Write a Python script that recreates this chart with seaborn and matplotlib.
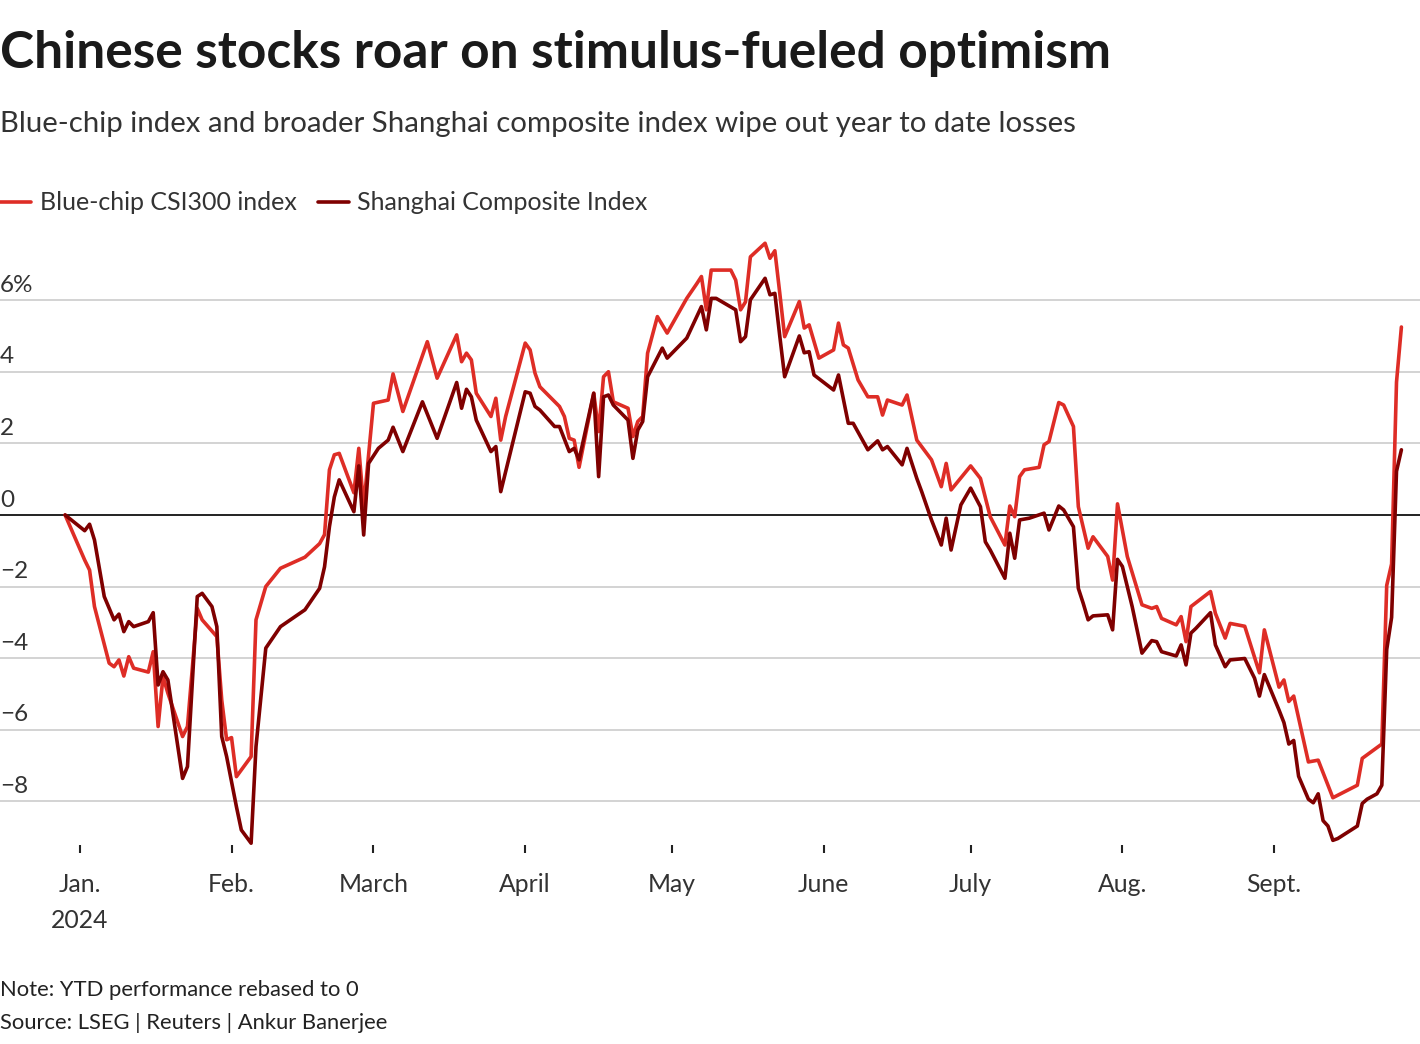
import pandas as pd
import matplotlib
matplotlib.use("Agg")
import matplotlib.pyplot as plt
import matplotlib.dates as mdates
import matplotlib.transforms as mtransforms
import seaborn as sns

# YTD performance (%), rebased to 0 at the last close of 2023
csi_dates = [
    "2023-12-29", "2024-01-02", "2024-01-03", "2024-01-04", "2024-01-07", "2024-01-08",
    "2024-01-09", "2024-01-10", "2024-01-11", "2024-01-12", "2024-01-15", "2024-01-16",
    "2024-01-17", "2024-01-18", "2024-01-19", "2024-01-22", "2024-01-23", "2024-01-25",
    "2024-01-26", "2024-01-29", "2024-01-30", "2024-01-31", "2024-02-01", "2024-02-02",
    "2024-02-05", "2024-02-06", "2024-02-08", "2024-02-11", "2024-02-16", "2024-02-19",
    "2024-02-20", "2024-02-21", "2024-02-22", "2024-02-23", "2024-02-26", "2024-02-27",
    "2024-02-28", "2024-03-01", "2024-03-04", "2024-03-05", "2024-03-07", "2024-03-12",
    "2024-03-14", "2024-03-18", "2024-03-19", "2024-03-20", "2024-03-21", "2024-03-22",
    "2024-03-25", "2024-03-26", "2024-03-27", "2024-03-28", "2024-04-01", "2024-04-02",
    "2024-04-03", "2024-04-04", "2024-04-08", "2024-04-09", "2024-04-10", "2024-04-11",
    "2024-04-12", "2024-04-15", "2024-04-16", "2024-04-17", "2024-04-18", "2024-04-19",
    "2024-04-22", "2024-04-23", "2024-04-24", "2024-04-25", "2024-04-26", "2024-04-28",
    "2024-04-30", "2024-05-04", "2024-05-06", "2024-05-07", "2024-05-08", "2024-05-09",
    "2024-05-13", "2024-05-14", "2024-05-15", "2024-05-16", "2024-05-17", "2024-05-20",
    "2024-05-21", "2024-05-22", "2024-05-23", "2024-05-24", "2024-05-27", "2024-05-28",
    "2024-05-29", "2024-05-31", "2024-06-03", "2024-06-04", "2024-06-05", "2024-06-06",
    "2024-06-08", "2024-06-10", "2024-06-12", "2024-06-13", "2024-06-14", "2024-06-17",
    "2024-06-18", "2024-06-20", "2024-06-23", "2024-06-25", "2024-06-26", "2024-06-27",
    "2024-07-01", "2024-07-03", "2024-07-05", "2024-07-08", "2024-07-09", "2024-07-10",
    "2024-07-11", "2024-07-12", "2024-07-15", "2024-07-16", "2024-07-17", "2024-07-19",
    "2024-07-20", "2024-07-22", "2024-07-23", "2024-07-25", "2024-07-26", "2024-07-29",
    "2024-07-30", "2024-07-31", "2024-08-02", "2024-08-05", "2024-08-07", "2024-08-08",
    "2024-08-09", "2024-08-12", "2024-08-13", "2024-08-14", "2024-08-15", "2024-08-19",
    "2024-08-20", "2024-08-22", "2024-08-23", "2024-08-26", "2024-08-29", "2024-08-30",
    "2024-09-02", "2024-09-03", "2024-09-04", "2024-09-05", "2024-09-08", "2024-09-10",
    "2024-09-13", "2024-09-18", "2024-09-19", "2024-09-23", "2024-09-24", "2024-09-25",
    "2024-09-26", "2024-09-27",
]
csi_values = [
    0.0, -1.26, -1.54, -2.56, -4.14, -4.24,
    -4.05, -4.50, -3.96, -4.28, -4.39, -3.82,
    -5.91, -4.52, -4.98, -6.19, -5.91, -2.61,
    -2.93, -3.40, -5.17, -6.28, -6.22, -7.31,
    -6.75, -2.93, -2.00, -1.49, -1.18, -0.80,
    -0.55, 1.26, 1.68, 1.72, 0.62, 1.86,
    0.23, 3.12, 3.21, 3.94, 2.89, 4.84,
    3.82, 5.03, 4.28, 4.52, 4.33, 3.40,
    2.75, 3.26, 2.09, 2.75, 4.80, 4.61,
    3.96, 3.58, 3.03, 2.75, 2.14, 2.09,
    1.33, 3.40, 2.33, 3.86, 4.00, 3.16,
    2.98, 2.19, 2.61, 2.75, 4.52, 5.54,
    5.08, 6.05, 6.45, 6.66, 5.73, 6.84,
    6.84, 6.56, 5.73, 5.95, 7.21, 7.59,
    7.17, 7.38, 6.20, 4.98, 5.96, 5.22,
    5.31, 4.38, 4.61, 5.36, 4.75, 4.66,
    3.77, 3.30, 3.30, 2.79, 3.21, 3.07,
    3.35, 2.09, 1.54, 0.79, 1.44, 0.70,
    1.37, 1.02, -0.05, -0.84, 0.25, -0.05,
    1.07, 1.26, 1.33, 1.96, 2.05, 3.14,
    3.07, 2.47, 0.23, -0.93, -0.61, -1.16,
    -1.82, 0.31, -1.16, -2.51, -2.61, -2.56,
    -2.89, -3.07, -2.84, -3.54, -2.56, -2.14,
    -2.75, -3.44, -3.03, -3.11, -4.41, -3.21,
    -4.81, -4.61, -5.21, -5.06, -6.90, -6.85,
    -7.90, -7.55, -6.80, -6.40, -1.97, -1.37,
    3.71, 5.25,
]

sse_dates = [
    "2023-12-29", "2024-01-02", "2024-01-03", "2024-01-04", "2024-01-06", "2024-01-08",
    "2024-01-09", "2024-01-10", "2024-01-11", "2024-01-12", "2024-01-15", "2024-01-16",
    "2024-01-17", "2024-01-18", "2024-01-19", "2024-01-22", "2024-01-23", "2024-01-25",
    "2024-01-26", "2024-01-28", "2024-01-29", "2024-01-30", "2024-01-31", "2024-02-02",
    "2024-02-03", "2024-02-05", "2024-02-06", "2024-02-08", "2024-02-11", "2024-02-16",
    "2024-02-19", "2024-02-20", "2024-02-21", "2024-02-22", "2024-02-23", "2024-02-26",
    "2024-02-27", "2024-02-28", "2024-02-29", "2024-03-02", "2024-03-04", "2024-03-05",
    "2024-03-07", "2024-03-11", "2024-03-14", "2024-03-18", "2024-03-19", "2024-03-20",
    "2024-03-21", "2024-03-22", "2024-03-25", "2024-03-26", "2024-03-27", "2024-04-01",
    "2024-04-02", "2024-04-03", "2024-04-04", "2024-04-07", "2024-04-08", "2024-04-10",
    "2024-04-11", "2024-04-12", "2024-04-15", "2024-04-16", "2024-04-17", "2024-04-18",
    "2024-04-19", "2024-04-22", "2024-04-23", "2024-04-24", "2024-04-25", "2024-04-26",
    "2024-04-29", "2024-04-30", "2024-05-04", "2024-05-07", "2024-05-08", "2024-05-09",
    "2024-05-10", "2024-05-14", "2024-05-15", "2024-05-16", "2024-05-17", "2024-05-20",
    "2024-05-21", "2024-05-22", "2024-05-23", "2024-05-24", "2024-05-27", "2024-05-28",
    "2024-05-29", "2024-05-30", "2024-06-03", "2024-06-04", "2024-06-06", "2024-06-07",
    "2024-06-10", "2024-06-12", "2024-06-13", "2024-06-14", "2024-06-17", "2024-06-18",
    "2024-06-20", "2024-06-21", "2024-06-23", "2024-06-25", "2024-06-26", "2024-06-27",
    "2024-06-29", "2024-07-01", "2024-07-03", "2024-07-04", "2024-07-05", "2024-07-08",
    "2024-07-09", "2024-07-10", "2024-07-11", "2024-07-13", "2024-07-16", "2024-07-17",
    "2024-07-19", "2024-07-20", "2024-07-22", "2024-07-23", "2024-07-24", "2024-07-25",
    "2024-07-26", "2024-07-29", "2024-07-30", "2024-07-31", "2024-08-01", "2024-08-03",
    "2024-08-05", "2024-08-07", "2024-08-08", "2024-08-09", "2024-08-12", "2024-08-13",
    "2024-08-14", "2024-08-15", "2024-08-16", "2024-08-19", "2024-08-20", "2024-08-22",
    "2024-08-23", "2024-08-26", "2024-08-28", "2024-08-29", "2024-08-30", "2024-09-02",
    "2024-09-03", "2024-09-04", "2024-09-05", "2024-09-06", "2024-09-08", "2024-09-09",
    "2024-09-10", "2024-09-11", "2024-09-12", "2024-09-13", "2024-09-14", "2024-09-18",
    "2024-09-19", "2024-09-20", "2024-09-22", "2024-09-23", "2024-09-24", "2024-09-25",
    "2024-09-26", "2024-09-27",
]
sse_values = [
    0.0, -0.44, -0.26, -0.70, -2.28, -2.93,
    -2.77, -3.26, -2.98, -3.12, -2.98, -2.73,
    -4.75, -4.38, -4.61, -7.36, -7.03, -2.28,
    -2.19, -2.56, -3.12, -6.19, -6.75, -8.15,
    -8.80, -9.17, -6.47, -3.72, -3.12, -2.65,
    -2.05, -1.45, -0.33, 0.50, 0.98, 0.09,
    1.37, -0.56, 1.44, 1.86, 2.09, 2.45,
    1.77, 3.16, 2.14, 3.70, 2.98, 3.51,
    3.30, 2.65, 1.77, 1.91, 0.65, 3.44,
    3.40, 3.03, 2.93, 2.47, 2.47, 1.77,
    1.86, 1.54, 3.40, 1.07, 3.30, 3.35,
    3.07, 2.65, 1.58, 2.37, 2.61, 3.86,
    4.66, 4.38, 4.94, 5.82, 5.17, 6.05,
    6.05, 5.73, 4.84, 4.98, 6.01, 6.61,
    6.15, 6.19, 5.00, 3.86, 5.00, 4.53,
    4.56, 3.91, 3.49, 3.91, 2.56, 2.56,
    1.82, 2.07, 1.82, 1.91, 1.40, 1.86,
    1.02, 0.65, -0.14, -0.84, -0.09, -0.98,
    0.28, 0.75, 0.23, -0.75, -0.98, -1.77,
    -0.51, -1.21, -0.14, -0.09, 0.05, -0.42,
    0.25, 0.14, -0.33, -2.05, -2.47, -2.93,
    -2.82, -2.79, -3.21, -1.24, -1.44, -2.56,
    -3.86, -3.51, -3.54, -3.82, -3.94, -3.63,
    -4.19, -3.30, -3.17, -2.73, -3.63, -4.24,
    -4.05, -4.01, -4.56, -5.06, -4.46, -5.45,
    -5.80, -6.40, -6.30, -7.30, -7.94, -8.04,
    -7.79, -8.54, -8.69, -9.09, -9.04, -8.69,
    -8.06, -7.94, -7.79, -7.55, -3.76, -2.86,
    1.22, 1.82,
]

series_names = ["Blue-chip CSI300 index", "Shanghai Composite Index"]
series_colors = ["#de2d26", "#7f0000"]

y_ticks = [-8, -6, -4, -2, 0, 2, 4, 6]
y_tick_labels = ["\u22128", "\u22126", "\u22124", "\u22122", "0", "2", "4", "6%"]

month_ticks = ["2024-01-01", "2024-02-01", "2024-03-01", "2024-04-01", "2024-05-01",
               "2024-06-01", "2024-07-01", "2024-08-01", "2024-09-01"]
month_labels = ["Jan.\n2024", "Feb.", "March", "April", "May", "June", "July", "Aug.", "Sept."]

title = "Chinese stocks roar on stimulus-fueled optimism"
subtitle = "Blue-chip index and broader Shanghai composite index wipe out year to date losses"
note = "Note: YTD performance rebased to 0"
source = "Source: LSEG | Reuters | Ankur Banerjee"

sns.set_theme(style="white")
plt.rcParams["font.family"] = ["Lato", "DejaVu Sans"]
text_color = "#333333"

df = pd.concat([
    pd.DataFrame({"date": pd.to_datetime(csi_dates), "value": csi_values, "series": series_names[0]}),
    pd.DataFrame({"date": pd.to_datetime(sse_dates), "value": sse_values, "series": series_names[1]}),
], ignore_index=True)

W, H = 1420, 1044
fig = plt.figure(figsize=(W / 100, H / 100), dpi=100)
ax = fig.add_axes([0, 1 - 845 / H, 1, (845 - 235) / H])

# gridlines, zero line in black
for v in y_ticks:
    if v == 0:
        ax.axhline(v, color="#222222", lw=1.4, zorder=2)
    else:
        ax.axhline(v, color="#c8c8c8", lw=1.1, zorder=1)

sns.lineplot(data=df, x="date", y="value", hue="series", hue_order=series_names,
             palette=series_colors, linewidth=2.6, ax=ax, zorder=3)

jan1 = mdates.date2num(pd.Timestamp("2024-01-01"))
sep1 = mdates.date2num(pd.Timestamp("2024-09-01"))
ax.set_xlim(jan1 - 16.3, sep1 + 29.8)
ax.set_ylim(-9.22, 7.82)

for s in ax.spines.values():
    s.set_visible(False)

ax.set_yticks([])
ax.set_xticks(pd.to_datetime(month_ticks))
ax.set_xticklabels(month_labels)
ax.tick_params(axis="x", bottom=True, direction="out", length=6, width=1.5,
               color="#222222", pad=14, labelsize=17.8, labelcolor=text_color)
for lbl in ax.get_xticklabels():
    lbl.set_linespacing(1.7)
ax.set_xlabel("")
ax.set_ylabel("")

# y labels sit above the gridlines at the left edge
trans = mtransforms.blended_transform_factory(ax.transAxes, ax.transData)
trans = mtransforms.offset_copy(trans, fig=fig, y=6, units="points")
for v, lab in zip(y_ticks, y_tick_labels):
    ax.text(0, v, lab, transform=trans, ha="left", va="baseline",
            fontsize=17.5, color=text_color)

handles, labels = ax.get_legend_handles_labels()
ax.legend_.remove()
fig.legend(handles, labels, loc="center left", bbox_to_anchor=(0, 1 - 203 / H),
           ncol=2, frameon=False, fontsize=18, handlelength=1.25, handletextpad=0.33,
           columnspacing=0.85, borderpad=0, borderaxespad=0, labelcolor=text_color)

fig.text(0, 1 - 68 / H, title, fontsize=37, fontweight="bold", color="#1a1a1a", va="baseline")
fig.text(0, 1 - 132 / H, subtitle, fontsize=21.2, fontweight="normal", color=text_color, va="baseline")
fig.text(0, 1 - 996 / H, note, fontsize=15.8, color="#222222", va="baseline")
fig.text(0, 1 - 1029 / H, source, fontsize=15.8, color="#222222", va="baseline")

fig.savefig("out.png", dpi=100)
